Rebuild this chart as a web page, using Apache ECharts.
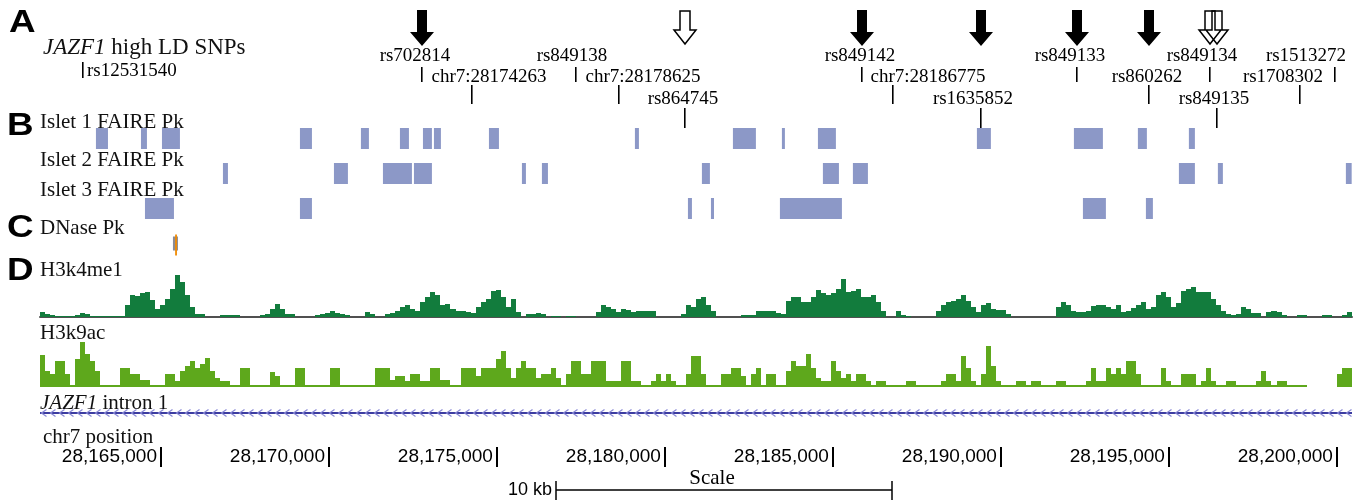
<!DOCTYPE html>
<html>
<head>
<meta charset="utf-8">
<script src="https://cdn.jsdelivr.net/npm/echarts@6/dist/echarts.min.js"></script>
<style>
  html, body { margin: 0; padding: 0; background: #fff; }
  #chart { width: 1366px; height: 502px; }
</style>
</head>
<body>
<div id="chart"></div>
<script>
// view window on chr7 (bp)
const viewStart = 28161400
const viewEnd = 28200450

// SNPs in high LD
const snpNames = ['rs12531540', 'rs702814', 'chr7:28174263', 'rs849138', 'chr7:28178625', 'rs864745',
  'rs849142', 'chr7:28186775', 'rs1635852', 'rs849133', 'rs860262', 'rs849134', 'rs849135',
  'rs1708302', 'rs1513272']
const snpPositions = [28162680, 28172769, 28174263, 28177352, 28178625, 28180596,
  28185864, 28186775, 28189406, 28192263, 28194406, 28196222, 28196430,
  28198900, 28199942]
const filledArrowSnps = ['rs702814', 'rs849142', 'rs1635852', 'rs849133', 'rs860262']
const hollowArrowSnps = ['rs864745', 'rs849134', 'rs849135']

// FAIRE peaks [start, end]
const islet1Peaks = [[28163065, 28163423], [28164405, 28164583], [28165030, 28165565], [28169137, 28169494],
  [28170952, 28171190], [28172113, 28172381], [28172798, 28173065], [28173125, 28173333],
  [28174762, 28175060], [28179107, 28179226], [28182024, 28182708], [28183482, 28183571],
  [28184554, 28185089], [28189286, 28189702], [28192173, 28193036], [28194077, 28194345],
  [28195595, 28195774]]
const islet2Peaks = [[28166845, 28166994], [28170149, 28170565], [28171607, 28172470], [28172530, 28173065],
  [28175744, 28175863], [28176339, 28176518], [28181101, 28181339], [28184702, 28185179],
  [28185595, 28186042], [28195298, 28195774], [28196458, 28196607], [28200268, 28200440]]
const islet3Peaks = [[28164524, 28165387], [28169137, 28169494], [28180685, 28180804], [28181370, 28181460],
  [28183423, 28185268], [28192441, 28193125], [28194316, 28194524]]
const dnasePeaks = [[28165357, 28165506]]
const dnaseSummits = [28165446]

// histone signal, fixed-span bins
const binStart = 28161400
const binSpan = 149
const h3k4me1 = [
  5, 3, 2, 1, 1, 1, 1, 2, 4, 3,
  1, 1, 1, 1, 1, 1, 1, 12, 22, 21,
  24, 25, 17, 8, 12, 18, 28, 42, 35, 22,
  10, 3, 3, 0, 0, 0, 2, 2, 2, 2,
  0, 0, 0, 0, 2, 3, 8, 13, 8, 3,
  3, 0, 0, 0, 0, 2, 3, 4, 6, 4,
  3, 2, 0, 0, 0, 5, 3, 0, 0, 3,
  4, 6, 10, 12, 8, 6, 15, 20, 25, 22,
  12, 13, 8, 6, 6, 5, 4, 10, 15, 18,
  26, 27, 20, 10, 18, 5, 0, 3, 3, 4,
  3, 0, 1, 1, 0, 1, 1, 0, 0, 0,
  0, 5, 12, 10, 8, 5, 8, 7, 5, 6,
  6, 6, 6, 0, 0, 0, 0, 0, 3, 12,
  10, 18, 20, 12, 6, 0, 0, 0, 0, 0,
  2, 2, 2, 6, 6, 6, 6, 4, 3, 16,
  20, 20, 15, 15, 20, 27, 24, 22, 24, 28,
  38, 25, 26, 28, 20, 20, 22, 15, 6, 0,
  0, 6, 2, 1, 0, 0, 0, 0, 0, 6,
  12, 15, 16, 18, 22, 16, 10, 5, 12, 14,
  8, 7, 7, 3, 0, 0, 0, 0, 0, 0,
  0, 0, 0, 10, 15, 12, 6, 5, 5, 6,
  11, 12, 12, 10, 8, 12, 5, 6, 9, 12,
  15, 8, 10, 22, 25, 20, 10, 14, 26, 28,
  30, 25, 25, 25, 18, 12, 6, 3, 2, 3,
  10, 8, 4, 4, 0, 5, 6, 5, 2, 0,
  0, 2, 2, 0, 0, 0, 2, 2, 0, 0, 2, 5]
const h3k9ac = [
  31, 15, 12, 25, 25, 12, 0, 27, 44, 32,
  25, 15, 0, 0, 0, 0, 18, 18, 12, 12,
  6, 6, 0, 0, 0, 12, 12, 5, 15, 20,
  25, 18, 22, 28, 15, 8, 5, 5, 0, 0,
  18, 18, 0, 0, 0, 0, 14, 10, 0, 0,
  0, 18, 18, 0, 0, 0, 0, 0, 18, 18,
  0, 0, 0, 0, 0, 0, 0, 18, 18, 18,
  6, 10, 10, 5, 12, 12, 5, 5, 18, 18,
  6, 6, 0, 0, 18, 18, 18, 10, 18, 18,
  18, 27, 35, 18, 8, 18, 25, 18, 18, 8,
  12, 12, 18, 8, 0, 12, 25, 25, 12, 12,
  25, 25, 25, 5, 5, 5, 25, 25, 5, 5,
  0, 0, 5, 12, 5, 12, 5, 0, 0, 12,
  30, 30, 12, 0, 0, 0, 12, 12, 18, 18,
  10, 0, 12, 18, 0, 12, 12, 0, 0, 15,
  25, 20, 20, 32, 18, 8, 5, 5, 25, 15,
  8, 12, 5, 12, 12, 5, 0, 5, 5, 0,
  0, 0, 0, 5, 5, 0, 0, 0, 0, 0,
  5, 12, 12, 5, 30, 18, 5, 0, 12, 40,
  20, 5, 0, 0, 0, 5, 5, 0, 5, 5,
  0, 0, 0, 5, 5, 0, 0, 0, 0, 5,
  18, 5, 5, 18, 12, 18, 12, 25, 25, 12,
  0, 0, 0, 0, 18, 5, 0, 0, 12, 12,
  12, 0, 5, 18, 5, 0, 0, 5, 5, 0,
  0, 0, 0, 5, 15, 5, 0, 5, 5, 0,
  0, 0, 0, null, null, null, null, null, null, 12, 18, 18]

// JAZF1 intron 1 (minus strand), runs past both ends of the view
const geneIntron = [[28160000, 28202000]]

// chr7 position ruler and scale bar
const rulerTicks = [28165000, 28170000, 28175000, 28180000, 28185000, 28190000, 28195000, 28200000]
const scaleBar = [[28176760, 28186760]]

// ---- layout ----
const snpRows = [-1, 0, 1, 0, 1, 2, 0, 1, 2, 0, 1, 0, 2, 1, 0]
const snpLabelDx = [4, -7, 17, -4, 24, -2, -2, 35, -8, -7, -2, -8, -3, -17, -29]
const rowLabelY = [56, 77, 99]
const rowTickTop = [67, 85, 108]
const rowTickBottom = [82, 104, 128]

const serif = '"Liberation Serif", "Times New Roman", serif'
const sans = '"Liberation Sans", Arial, sans-serif'
const faireColor = '#8c98c7'

const chart = echarts.init(document.getElementById('chart'))

const xAxisBase = { type: 'value', min: viewStart, max: viewEnd, show: false }
const grids = [
  { left: 40, right: 14, top: 0, height: 135 },   // SNPs
  { left: 40, right: 14, top: 121, height: 140 }, // FAIRE + DNase
  { left: 40, right: 14, top: 272, height: 45 },  // H3k4me1
  { left: 40, right: 14, top: 341, height: 45 },  // H3k9ac
  { left: 40, right: 14, top: 405, height: 16 },  // gene
  { left: 40, right: 14, top: 447, height: 20 },  // ruler
]

const arrowShape = (x, top, neck, tip, shaft, head) => [
  [x - shaft, top], [x + shaft, top], [x + shaft, neck], [x + head, neck],
  [x, tip], [x - head, neck], [x - shaft, neck]
]

const snpSeries = {
  type: 'custom',
  xAxisIndex: 0, yAxisIndex: 0,
  data: snpPositions.map((p, i) => ({ name: snpNames[i], value: [p, 0] })),
  renderItem: (params, api) => {
    const i = params.dataIndex
    const name = snpNames[i]
    const x = Math.round(api.coord([api.value(0), 0])[0])
    const row = snpRows[i]
    const children = []
    if (row < 0) {
      children.push({ type: 'rect', shape: { x: x - 1, y: 62, width: 1.6, height: 16 }, style: { fill: '#000' } })
      children.push({ type: 'text', style: { text: name, x: x + snpLabelDx[i], y: 71, align: 'left', verticalAlign: 'middle', font: '19px ' + serif, fill: '#000' } })
    } else {
      children.push({ type: 'rect', shape: { x: x - 1, y: rowTickTop[row], width: 1.6, height: rowTickBottom[row] - rowTickTop[row] }, style: { fill: '#000' } })
      children.push({ type: 'text', style: { text: name, x: x + snpLabelDx[i], y: rowLabelY[row], align: 'center', verticalAlign: 'middle', font: '19px ' + serif, fill: '#000' } })
    }
    if (filledArrowSnps.includes(name)) {
      children.push({ type: 'polygon', shape: { points: arrowShape(x, 10, 32, 46, 5, 12) }, style: { fill: '#000' } })
    } else if (hollowArrowSnps.includes(name)) {
      children.push({ type: 'polygon', shape: { points: arrowShape(x, 11, 30, 44, 5, 11) }, style: { fill: 'none', stroke: '#000', lineWidth: 1.5 } })
    }
    return { type: 'group', children }
  }
}

const faireData = []
;[islet1Peaks, islet2Peaks, islet3Peaks].forEach((peaks, t) => {
  peaks.forEach(p => faireData.push([p[0], p[1], t]))
})

const faireSeries = {
  type: 'custom',
  xAxisIndex: 1, yAxisIndex: 1,
  data: faireData,
  renderItem: (params, api) => {
    const a = api.coord([api.value(0), api.value(2)])
    const b = api.coord([api.value(1), api.value(2)])
    const h = api.size([0, 1])[1] * 0.6
    return { type: 'rect', shape: { x: a[0], y: a[1] - h / 2, width: Math.max(b[0] - a[0], 2.5), height: h }, style: { fill: faireColor } }
  }
}

const dnaseSeries = {
  type: 'custom',
  xAxisIndex: 1, yAxisIndex: 1,
  data: dnasePeaks.map((p, i) => [p[0], p[1], 3, dnaseSummits[i]]),
  renderItem: (params, api) => {
    const a = api.coord([api.value(0), api.value(2)])
    const b = api.coord([api.value(1), api.value(2)])
    const s = api.coord([api.value(3), api.value(2)])
    return {
      type: 'group', children: [
        { type: 'rect', shape: { x: a[0], y: a[1] - 7, width: b[0] - a[0], height: 14 }, style: { fill: '#8a8a94' } },
        { type: 'rect', shape: { x: s[0] - 0.8, y: a[1] - 9, width: 1.8, height: 21 }, style: { fill: '#f08a00' } }
      ]
    }
  }
}

const binData = values => values
  .map((v, i) => [binStart + i * binSpan, binStart + (i + 1) * binSpan, v])
  .filter(d => d[2] !== null)

// bins snapped to whole pixels so neighbouring bars leave no seams
const signalSeries = (values, gridIdx, color, withBase) => ({
  type: 'custom',
  xAxisIndex: gridIdx, yAxisIndex: gridIdx,
  data: binData(values),
  renderItem: (params, api) => {
    const s = api.coord([api.value(0), 0])
    const e = api.coord([api.value(1), api.value(2)])
    const x0 = Math.round(s[0])
    const x1 = Math.round(e[0])
    const bottom = Math.round(withBase ? s[1] + 1 : s[1])
    let h = Math.round(bottom - e[1])
    if (withBase) h = Math.max(h, 2)
    if (h <= 0 || x1 <= x0) return null
    return { type: 'rect', shape: { x: x0, y: bottom - h, width: x1 - x0, height: h }, style: { fill: color } }
  }
})

const geneSeries = {
  type: 'custom',
  xAxisIndex: 4, yAxisIndex: 4,
  data: geneIntron,
  renderItem: (params, api) => {
    const cs = params.coordSys
    const x0 = Math.max(api.coord([api.value(0), 0])[0], cs.x)
    const x1 = Math.min(api.coord([api.value(1), 0])[0], cs.x + cs.width)
    const y = Math.round(cs.y + cs.height / 2)
    const children = [{ type: 'line', shape: { x1: x0, y1: y, x2: x1, y2: y }, style: { stroke: '#3c3ca0', lineWidth: 2 } }]
    for (let cx = x0 + 4; cx < x1 - 2; cx += 9) {
      children.push({ type: 'polyline', shape: { points: [[cx + 2.5, y - 3.5], [cx - 2.5, y], [cx + 2.5, y + 3.5]] }, style: { stroke: '#8a8ad6', lineWidth: 1.2, fill: 'none' } })
    }
    return { type: 'group', children }
  }
}

const scaleSeries = {
  type: 'custom',
  xAxisIndex: 5, yAxisIndex: 5,
  data: scaleBar,
  renderItem: (params, api) => {
    const x0 = Math.round(api.coord([api.value(0), 0])[0])
    const x1 = Math.round(api.coord([api.value(1), 0])[0])
    const y = 490
    return {
      type: 'group', children: [
        { type: 'line', shape: { x1: x0, y1: y, x2: x1, y2: y }, style: { stroke: '#000', lineWidth: 1.5 } },
        { type: 'line', shape: { x1: x0, y1: y - 9, x2: x0, y2: y + 10 }, style: { stroke: '#000', lineWidth: 1.5 } },
        { type: 'line', shape: { x1: x1, y1: y - 9, x2: x1, y2: y + 10 }, style: { stroke: '#000', lineWidth: 1.5 } },
        { type: 'text', style: { text: '10 kb', x: x0 - 4, y: y, align: 'right', verticalAlign: 'middle', font: '18px ' + sans, fill: '#000' } },
        { type: 'text', style: { text: 'Scale', x: (x0 + x1) / 2 - 12, y: y - 12, align: 'center', verticalAlign: 'middle', font: '21px ' + serif, fill: '#000' } }
      ]
    }
  }
}

const fmt = v => String(v).replace(/\B(?=(\d{3})+(?!\d))/g, ',')

const trackLabel = (text, x, y, size) => ({
  type: 'text', x, y,
  style: {
    text, fill: '#111', fontFamily: serif, fontSize: size || 21, verticalAlign: 'middle',
    rich: { i: { fontStyle: 'italic', fontFamily: serif, fontSize: size || 21, fill: '#111' } }
  }
})
const panelLetter = (text, x, y) => ({
  type: 'text', x, y, scaleX: 1.15,
  style: { text, x: 0, y: 0, fill: '#000', font: 'bold 32px ' + sans, verticalAlign: 'middle' }
})

const options = {
  animation: false,
  backgroundColor: '#fff',
  grid: grids,
  xAxis: [
    { ...xAxisBase, gridIndex: 0 },
    { ...xAxisBase, gridIndex: 1 },
    {
      ...xAxisBase, gridIndex: 2, show: true,
      axisLine: { show: true, lineStyle: { color: '#505050', width: 2 } },
      axisTick: { show: false }, axisLabel: { show: false }, splitLine: { show: false }
    },
    { ...xAxisBase, gridIndex: 3 },
    { ...xAxisBase, gridIndex: 4 },
    {
      ...xAxisBase, gridIndex: 5, show: true,
      axisLine: { show: false }, splitLine: { show: false },
      axisTick: { show: true, customValues: rulerTicks, inside: true, length: 20, lineStyle: { color: '#000', width: 2 } },
      axisLabel: {
        show: true, customValues: rulerTicks, formatter: fmt, align: 'right', verticalAlign: 'middle',
        margin: -10, padding: [0, 4, 0, 0], fontFamily: sans, fontSize: 19, color: '#000'
      }
    }
  ],
  yAxis: [
    { type: 'value', gridIndex: 0, min: 0, max: 1, show: false },
    { type: 'category', gridIndex: 1, data: ['Islet 1', 'Islet 2', 'Islet 3', 'DNase'], inverse: true, show: false },
    { type: 'value', gridIndex: 2, min: 0, max: 45, show: false },
    { type: 'value', gridIndex: 3, min: 0, max: 45, show: false },
    { type: 'value', gridIndex: 4, min: 0, max: 1, show: false },
    { type: 'value', gridIndex: 5, min: 0, max: 1, show: false }
  ],
  series: [
    snpSeries,
    faireSeries,
    dnaseSeries,
    signalSeries(h3k4me1, 2, '#127c3d', false),
    signalSeries(h3k9ac, 3, '#5ea81c', true),
    geneSeries,
    scaleSeries
  ],
  graphic: [
    panelLetter('A', 9, 23),
    panelLetter('B', 7, 126),
    panelLetter('C', 7, 228),
    panelLetter('D', 7, 271),
    trackLabel('{i|JAZF1} high LD SNPs', 43, 48, 23),
    trackLabel('Islet 1 FAIRE Pk', 40, 122),
    trackLabel('Islet 2 FAIRE Pk', 40, 160),
    trackLabel('Islet 3 FAIRE Pk', 40, 190),
    trackLabel('DNase Pk', 40, 228),
    trackLabel('H3k4me1', 40, 270),
    trackLabel('H3k9ac', 40, 333),
    trackLabel('{i|JAZF1} intron 1', 40, 403),
    trackLabel('chr7 position', 43, 437)
  ]
}

chart.setOption(options)
</script>
</body>
</html>
